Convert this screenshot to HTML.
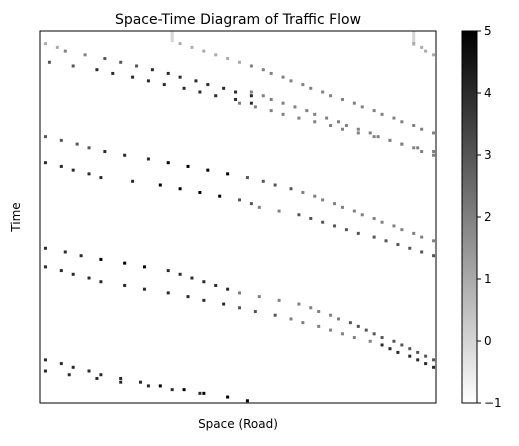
<!DOCTYPE html>
<html><head><meta charset="utf-8"><style>
body{margin:0;background:#fff;font-family:"Liberation Sans","DejaVu Sans",sans-serif}
svg text{font-family:"DejaVu Sans","Liberation Sans",sans-serif}
</style></head><body>
<svg id="c" width="519" height="441" xmlns="http://www.w3.org/2000/svg">
<text x="238" y="24" font-size="14" text-anchor="middle">Space-Time Diagram of Traffic Flow</text>
<text x="238" y="428" font-size="12" text-anchor="middle">Space (Road)</text>
<text transform="translate(20,217) rotate(-90)" font-size="12" text-anchor="middle">Time</text>
<g id="cells"></g>
<rect x="40" y="31" width="396" height="372" fill="none" stroke="#000" stroke-width="1"/>
<defs><linearGradient id="g" x1="0" y1="1" x2="0" y2="0"><stop offset="0" stop-color="#fff"/><stop offset="1" stop-color="#000"/></linearGradient></defs>
<rect x="462" y="31" width="15" height="372" fill="url(#g)" stroke="#000" stroke-width="1"/>
<g id="cbticks"></g>
</svg>
<script>
// trajectories: arrays of [space cell, time row] vertices and cell values per segment
const trajSpace = [
 [1,6,16,28,53],[2,14,27,53],[35,53,99],[53,99],[50,99],[94,99],
 [1,16,32,52,66,76,99],[1,15,30,50,55,65,99],
 [1,15,32,50,65,78,99],[1,15,32,50,63,86,99],
 [1,15,30,52],[1,20,40]
];
const trajTime = [
 [3,5,7,10,17],[8,10,13,19],[3,9,27],[16,33],[19,32],[3,6],
 [28,32,35,39,43,47,56],[35,39,41,45,47,49,60],
 [58,61,64,70,73,78,88],[63,67,70,74,77,84,90],
 [88,92,95,99],[91,94,97]
];
const trajValue = [
 [1,2,3,4],[3,4,4],[1,2],[2],[2],[1],
 [3,4,5,3,2,2],[4,4,5,3,2,3],
 [4,5,4,2,2,3],[4,4,4,3,2,4],
 [4,4,5],[4,4]
];
const cbTicks = [-1,0,1,2,3,4,5];
const X0=40,Y0=31,W=396,H=372,NS=100,NT=100,VMIN=-1,VMAX=5;
const xs=s=>X0+s*W/NS, ys=t=>Y0+t*H/NT;
const col=v=>{const g=Math.round(255*(1-(v-VMIN)/(VMAX-VMIN)));return `rgb(${g},${g},${g})`;};
const NS_='http://www.w3.org/2000/svg';
const cells=document.getElementById('cells');
// light vertical streaks at top
[[33,0,3],[94,0,4]].forEach(([s,t0,t1])=>{
 const r=document.createElementNS(NS_,'rect');
 r.setAttribute('x',xs(s));r.setAttribute('y',ys(t0));r.setAttribute('width',3);r.setAttribute('height',ys(t1)-ys(t0));
 r.setAttribute('fill',col(0));
 
 
 cells.appendChild(r);
});
trajSpace.forEach((sp,i)=>{
 const tm=trajTime[i],vals=trajValue[i];
 for(let k=0;k<sp.length-1;k++){
  const t0=tm[k],t1=tm[k+1];
  for(let t=t0;t<(k==sp.length-2?t1+1:t1);t++){
   const f=t1===t0?0:(t-t0)/(t1-t0);
   const s=Math.round(sp[k]+(sp[k+1]-sp[k])*f);
   if(s<0||s>=NS||t>=NT)continue;
   const r=document.createElementNS(NS_,'rect');
   r.setAttribute('x',xs(s));r.setAttribute('y',ys(t));r.setAttribute('width',3);r.setAttribute('height',3);
   r.setAttribute('fill',col(vals[k]));
   
   
   cells.appendChild(r);
  }
 }
});
const cb=document.getElementById('cbticks');
cbTicks.forEach(v=>{
 const y=403-(v-VMIN)/(VMAX-VMIN)*372;
 const l=document.createElementNS(NS_,'line');
 l.setAttribute('x1',477);l.setAttribute('x2',481);l.setAttribute('y1',y);l.setAttribute('y2',y);l.setAttribute('stroke','#000');
 
 
 cb.appendChild(l);
 const tx=document.createElementNS(NS_,'text');
 tx.setAttribute('x',484);tx.setAttribute('y',y+4);tx.setAttribute('font-size','12');
 tx.textContent=v<0?'\u2212'+Math.abs(v):v;
 
 
 cb.appendChild(tx);
});
</script>
</body></html>
